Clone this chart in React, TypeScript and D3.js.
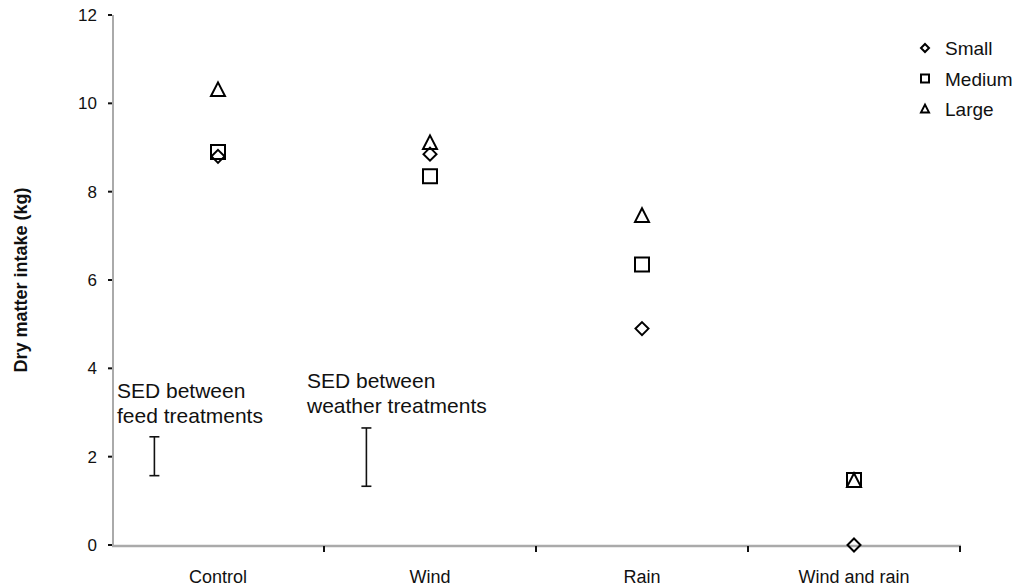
import React from "react";
import * as d3 from "d3";

const categories = ["Control", "Wind", "Rain", "Wind and rain"];
const small = [8.8, 8.85, 4.9, 0];
const medium = [8.9, 8.35, 6.35, 1.47];
const large = [10.3, 9.1, 7.45, 1.45];
const seriesNames = ["Small", "Medium", "Large"];
const yTicks = [0, 2, 4, 6, 8, 10, 12];
// SED bars: [position in category units, low, high]
const sedFeed = [0.2, 1.57, 2.45];
const sedWeather = [1.2, 1.33, 2.65];

const W = 1022;
const H = 587;

const symbolPath = (type: string, size: number) => {
  const s = size / 2;
  if (type === "Small") return `M0,${-s}L${s},0L0,${s}L${-s},0Z`;
  if (type === "Medium") return `M${-s},${-s}H${s}V${s}H${-s}Z`;
  return `M0,${-s * 1.1}L${s},${s * 0.85}H${-s}Z`;
};

export default function App() {
  const x = d3.scaleBand().domain(categories).range([112, 960]);
  const xl = d3.scaleLinear().domain([0, 4]).range([112, 960]);
  const y = d3.scaleLinear().domain([0, 12]).range([545, 15]);
  const series = [small, medium, large];
  const font = "Arial, 'Liberation Sans', sans-serif";

  const sed = (d: number[], i: number) => {
    const cx = xl(d[0]);
    return (
      <g key={"sed" + i} stroke="#111" strokeWidth={1.6}>
        <line x1={cx} x2={cx} y1={y(d[1])} y2={y(d[2])} />
        <line x1={cx - 5} x2={cx + 5} y1={y(d[1])} y2={y(d[1])} />
        <line x1={cx - 5} x2={cx + 5} y1={y(d[2])} y2={y(d[2])} />
      </g>
    );
  };

  return (
    <svg width={W} height={H} style={{ position: "absolute", left: 0, top: 0, background: "#fff" }} fontFamily={font}>
      {/* axes */}
      <line x1={113} x2={113} y1={15} y2={546} stroke="#aaa" strokeWidth={2} />
      <line x1={112} x2={961} y1={546} y2={546} stroke="#aaa" strokeWidth={2.5} />
      {yTicks.map((t) => (
        <g key={t}>
          <line x1={108} x2={112} y1={y(t)} y2={y(t)} stroke="#111" strokeWidth={2} />
          <text x={97} y={y(t) + 6} textAnchor="end" fontSize={17} fill="#111">{t}</text>
        </g>
      ))}
      {categories.map((c, i) => (
        <g key={c}>
          <line x1={xl(i + 1)} x2={xl(i + 1)} y1={546} y2={552} stroke="#111" strokeWidth={2} />
          <text x={(x(c) as number) + x.bandwidth() / 2} y={583} textAnchor="middle" fontSize={18} fill="#111">{c}</text>
        </g>
      ))}
      <text transform={`translate(27,280) rotate(-90)`} textAnchor="middle" fontSize={18} fontWeight="bold" fill="#111">
        Dry matter intake (kg)
      </text>

      {/* points */}
      {series.map((vals, si) =>
        vals.map((v, i) => (
          <path
            key={si + "-" + i}
            transform={`translate(${(x(categories[i]) as number) + x.bandwidth() / 2},${y(v)})`}
            d={symbolPath(seriesNames[si], si === 0 ? 13 : 14)}
            fill="none"
            stroke="#000"
            strokeWidth={2}
          />
        ))
      )}

      {/* SED */}
      {sed(sedFeed, 0)}
      {sed(sedWeather, 1)}
      <text fontSize={21} fill="#111">
        <tspan x={117} y={398}>SED between</tspan>
        <tspan x={117} y={423}>feed treatments</tspan>
      </text>
      <text fontSize={21} fill="#111">
        <tspan x={307} y={388}>SED between</tspan>
        <tspan x={307} y={413}>weather treatments</tspan>
      </text>

      {/* legend */}
      {seriesNames.map((n, i) => (
        <g key={n} transform={`translate(925,${48 + i * 30.5})`}>
          <path d={symbolPath(n, 8)} fill="none" stroke="#000" strokeWidth={2} />
          <text x={20} y={7} fontSize={19} fill="#111">{n}</text>
        </g>
      ))}
    </svg>
  );
}
